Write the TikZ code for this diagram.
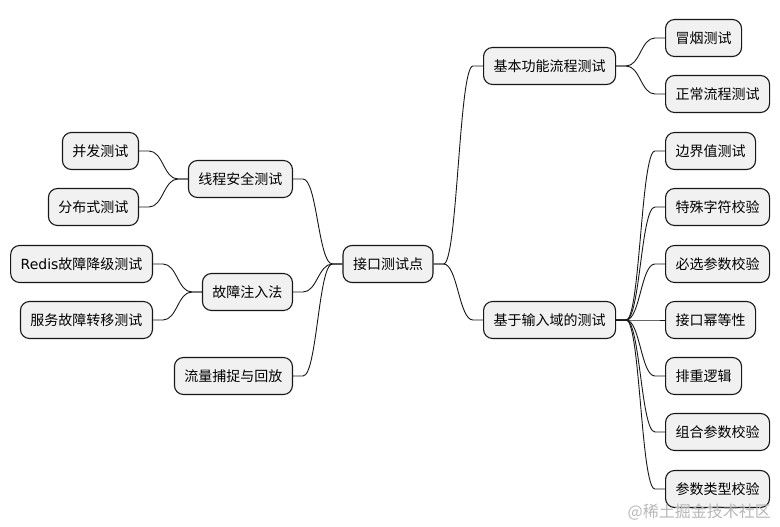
\documentclass[tikz,border=0pt]{standalone}
\usepackage{fontspec}
\setmainfont{Noto Sans CJK SC}
\newfontfamily\latinpart{DejaVu Sans}
\usetikzlibrary{calc}
\definecolor{boxfill}{HTML}{F1F1F1}
\definecolor{boxline}{HTML}{181818}
\tikzset{
  mmbox/.style={draw=boxline, fill=boxfill, rounded corners=9pt, line width=1.1pt,
    minimum height=37pt, inner xsep=10pt, inner ysep=0pt,
    font=\fontsize{14}{14}\selectfont, text=black},
  conn/.style={draw=boxline, line width=0.9pt},
  wmark/.style={text=black!28, font=\fontsize{16}{16}\selectfont, inner sep=0pt}
}
\newcommand\rlink[2]{\draw[conn] (#1.east) -- ++(10,0) to[out=0,in=180,distance=14pt] ($(#2.west)+(-10,0)$) -- (#2.west);}
\newcommand\llink[2]{\draw[conn] (#1.west) -- ++(-10,0) to[out=180,in=0,distance=14pt] ($(#2.east)+(10,0)$) -- (#2.east);}
\begin{document}
\begin{tikzpicture}[x=1pt,y=-1pt]
\useasboundingbox (0,0) rectangle (780,527);
\fill[white] (0,0) rectangle (780,527);
% root
\node[mmbox] (root) at (388,264) {接口测试点};
% right side
\node[mmbox,anchor=west] (b1) at (483,66) {基本功能流程测试};
\node[mmbox,anchor=west] (b2) at (483,320) {基于输入域的测试};
\node[mmbox,anchor=west] (c1) at (665,38) {冒烟测试};
\node[mmbox,anchor=west] (c2) at (665,94) {正常流程测试};
\node[mmbox,anchor=west] (d1) at (665,151) {边界值测试};
\node[mmbox,anchor=west] (d2) at (665,207) {特殊字符校验};
\node[mmbox,anchor=west] (d3) at (665,264) {必选参数校验};
\node[mmbox,anchor=west] (d4) at (665,320) {接口幂等性};
\node[mmbox,anchor=west] (d5) at (665,376) {排重逻辑};
\node[mmbox,anchor=west] (d6) at (665,432) {组合参数校验};
\node[mmbox,anchor=west] (d7) at (665,489) {参数类型校验};
% left side
\node[mmbox,anchor=east] (l1) at (293,179) {线程安全测试};
\node[mmbox,anchor=east] (l2) at (293,292) {故障注入法};
\node[mmbox,anchor=east] (l3) at (293,376) {流量捕捉与回放};
\node[mmbox,anchor=east] (e1) at (139,151) {并发测试};
\node[mmbox,anchor=east] (e2) at (139,207) {分布式测试};
\node[mmbox,anchor=east] (f1) at (153,264) {{\latinpart Redis}故障降级测试};
\node[mmbox,anchor=east] (f2) at (153,320) {服务故障转移测试};
% connectors
\rlink{root}{b1}
\rlink{root}{b2}
\rlink{b1}{c1}
\rlink{b1}{c2}
\foreach \n in {d1,d2,d3,d4,d5,d6,d7} {\rlink{b2}{\n}}
\llink{root}{l1}
\llink{root}{l2}
\llink{root}{l3}
\llink{l1}{e1}
\llink{l1}{e2}
\llink{l2}{f1}
\llink{l2}{f2}
% watermark
\node[wmark,anchor=east] (wm) at (771,512) {@稀土掘金技术社区};
\end{tikzpicture}
\end{document}
